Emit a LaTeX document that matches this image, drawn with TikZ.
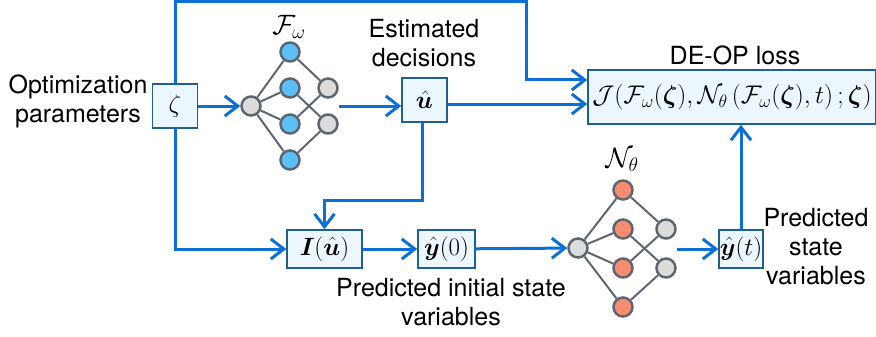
\RequirePackage{fix-cm}
\documentclass[tikz,border=0pt]{standalone}
\usepackage{amsmath,bm}
\usepackage{fontspec}
\setmainfont{TeX Gyre Heros}
\usetikzlibrary{arrows.meta,calc}
\definecolor{lblue}{HTML}{0B6FD6}
\definecolor{bborder}{HTML}{21608E}
\definecolor{bfill}{HTML}{EBF6FD}
\definecolor{ngray}{HTML}{5E6670}
\definecolor{gfill}{HTML}{DCDCDC}
\definecolor{bnode}{HTML}{5BBFF8}
\definecolor{onode}{HTML}{F98B72}
\begin{document}
\begin{tikzpicture}[x=1pt,y=-1pt,
  font=\fontsize{25}{29}\selectfont,
  flow/.style={draw=lblue,line width=3pt,-{Straight Barb[length=13pt,width=20pt]}},
  vbox/.style={draw=bborder,fill=bfill,line width=1.5pt,inner sep=0pt},
  neu/.style={circle,draw=ngray,line width=2.5pt,minimum size=19pt,inner sep=0pt},
  nedge/.style={draw=ngray,line width=2pt},
  lbl/.style={align=center,inner sep=0pt},
  netlbl/.style={inner sep=0pt,font=\fontsize{28}{32}\selectfont}]
\useasboundingbox (0,0) rectangle (876,337);

% boxes
\node[vbox,minimum width=45pt,minimum height=44pt] (zeta) at (175,106) {$\zeta$};
\node[vbox,minimum width=45pt,minimum height=44pt] (uhat) at (424.5,100) {$\hat{\bm u}$};
\node[vbox,minimum width=288pt,minimum height=54pt,font=\fontsize{25.5}{30}\selectfont] (J) at (732,97) {$\mathcal{J}(\mathcal{F}_\omega(\bm\zeta),\mathcal{N}_\theta\left(\mathcal{F}_\omega(\bm\zeta),t\right);\bm\zeta)$};
\node[vbox,minimum width=75pt,minimum height=38pt] (I) at (324.5,249) {$\bm I(\hat{\bm u})$};
\node[vbox,minimum width=57pt,minimum height=38pt] (y0) at (446.5,249) {$\hat{\bm y}(0)$};
\node[vbox,minimum width=44pt,minimum height=38pt] (yt) at (741,249) {$\hat{\bm y}(t)$};

% labels
\node[lbl] (optlbl) at (78,101) {Optimization\\parameters};
\node[lbl] (estlbl) at (424,43) {Estimated\\decisions};
\node[lbl] (deop) at (735,55) {DE-OP loss};
\node[lbl] (predinit) at (451,302) {Predicted initial state\\variables};
\node[lbl] (predstate) at (816,247) {Predicted\\state\\variables};
\node[netlbl] (flbl) at (289,27) {$\mathcal{F}_\omega$};
\node[netlbl] (nlbl) at (622,160) {$\mathcal{N}_\theta$};

% network F
\node[neu,fill=gfill] (fi) at (251,106) {};
\node[neu,fill=bnode] (fh1) at (290,52) {};
\node[neu,fill=bnode] (fh2) at (290,88) {};
\node[neu,fill=bnode] (fh3) at (290,124) {};
\node[neu,fill=bnode] (fh4) at (290,160) {};
\node[neu,fill=gfill] (fo1) at (328,88) {};
\node[neu,fill=gfill] (fo2) at (328,124) {};
\foreach \h in {fh1,fh2,fh3,fh4} \draw[nedge] (fi) -- (\h);
\draw[nedge] (fh1) -- (fo1);
\draw[nedge] (fh2) -- (fo2);
\draw[nedge] (fh3) -- (fo1);
\draw[nedge] (fh4) -- (fo2);

% network N
\node[neu,fill=gfill] (ni) at (578,248) {};
\node[neu,fill=onode] (nh1) at (623,190) {};
\node[neu,fill=onode] (nh2) at (623,229) {};
\node[neu,fill=onode] (nh3) at (623,268) {};
\node[neu,fill=onode] (nh4) at (623,307) {};
\node[neu,fill=gfill] (no1) at (666,229) {};
\node[neu,fill=gfill] (no2) at (666,268) {};
\foreach \h in {nh1,nh2,nh3,nh4} \draw[nedge] (ni) -- (\h);
\draw[nedge] (nh1) -- (no1);
\draw[nedge] (nh2) -- (no2);
\draw[nedge] (nh3) -- (no1);
\draw[nedge] (nh4) -- (no2);

% connectors
\coordinate (topc) at (526,1.5);
\draw[flow] (zeta.east) -- (fi.west);
\draw[flow] (fo1.east |- fi) -- (uhat.west |- fi);
\draw[flow] (zeta.north) |- (topc) |- ([yshift=17pt]J.west);
\draw[flow] ([yshift=-4pt]uhat.east) -- ([yshift=-4pt]uhat.east -| J.west);
\draw[flow] (zeta.south) |- (I.west);
\draw[flow] ([xshift=-2pt]uhat.south) -- ++(0,78) -| (I.north);
\draw[flow] (I) -- (y0);
\draw[flow] (y0) -- (ni);
\draw[flow] (no1.east |- yt) -- (yt.west);
\draw[flow] (yt.north) -- (yt.north |- J.south);
\end{tikzpicture}
\end{document}
